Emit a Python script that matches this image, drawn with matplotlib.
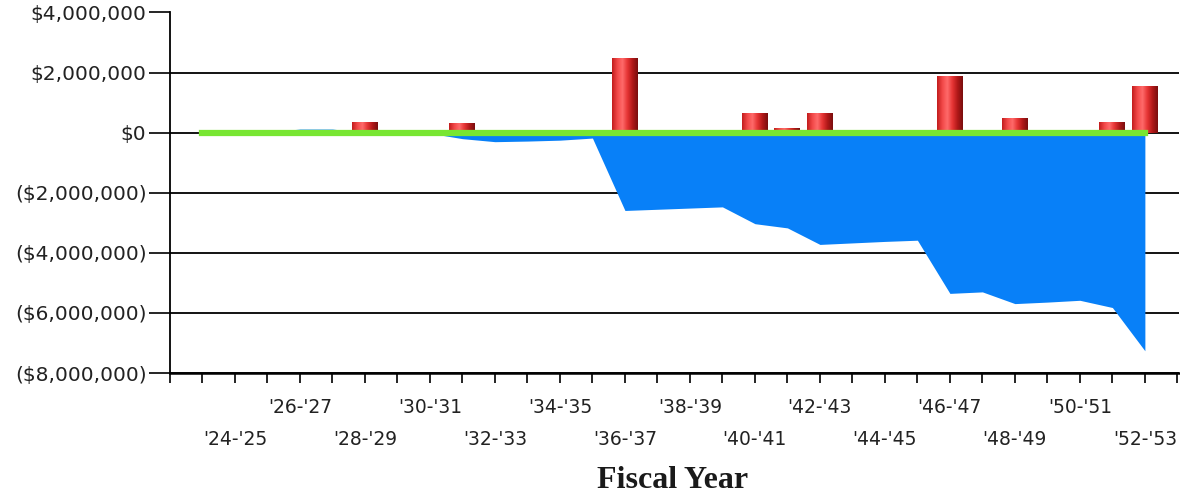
import numpy as np
import matplotlib.pyplot as plt
from matplotlib.colors import LinearSegmentedColormap

fiscal_years = ["'23-'24", "'24-'25", "'25-'26", "'26-'27", "'27-'28", "'28-'29",
                "'29-'30", "'30-'31", "'31-'32", "'32-'33", "'33-'34", "'34-'35",
                "'35-'36", "'36-'37", "'37-'38", "'38-'39", "'39-'40", "'40-'41",
                "'41-'42", "'42-'43", "'43-'44", "'44-'45", "'45-'46", "'46-'47",
                "'47-'48", "'48-'49", "'49-'50", "'50-'51", "'51-'52", "'52-'53"]

# annual amounts (red bars), in dollars
annual = [0, 50000, 0, 0, 0, 350000, 0, 0, 330000, 100000, 0, 0, 0, 2480000, 0,
          0, 0, 670000, 150000, 670000, 0, 0, 0, 1870000, 0, 480000, 0, 0,
          340000, 1540000]

# cumulative position (blue area), in dollars
cumulative = [0, 0, 20000, 120000, 120000, 0, 0, -20000, -200000, -300000,
              -280000, -250000, -180000, -2590000, -2550000, -2510000, -2470000,
              -3030000, -3170000, -3720000, -3670000, -3620000, -3580000,
              -5350000, -5300000, -5690000, -5640000, -5580000, -5820000,
              -7260000]

# break-even line (green)
breakeven = [0] * 30

y_ticks = [4000000, 2000000, 0, -2000000, -4000000, -6000000, -8000000]


def money(v):
    if v < 0:
        return '(${:,.0f})'.format(-v)
    return '${:,.0f}'.format(v)


x = np.arange(len(fiscal_years))

fig = plt.figure(figsize=(11.8, 4.96), dpi=100)
ax = fig.add_axes([170 / 1180, 1 - 373 / 496, 1009 / 1180, 360.5 / 496])

ax.fill_between(x, cumulative, 0, color='#0880f8', linewidth=0, zorder=1)

bars = ax.bar(x, annual, width=0.8, color='#d82828', zorder=2)
# cylinder shading on each bar
shade = LinearSegmentedColormap.from_list(
    'cyl', ['#c21d1d', '#f24848', '#ff6a6a', '#e53434', '#b01818', '#7a0e0e'])
grad = np.linspace(0, 1, 64).reshape(1, -1)
for b in bars:
    h = b.get_height()
    if h <= 0:
        continue
    x0 = b.get_x()
    im = ax.imshow(grad, cmap=shade, aspect='auto', zorder=2.1,
                   extent=[x0, x0 + b.get_width(), 0, h])
    im.set_clip_path(b)

ax.plot(x, breakeven, color='#78e632', linewidth=4.5, solid_capstyle='projecting',
        zorder=3)

ax.set_xlim(-0.97, 30.05)
ax.set_ylim(-8000000, 4000000)

ax.set_yticks(y_ticks)
ax.set_yticklabels([money(v) for v in y_ticks], fontsize=14.5, color='#222222')
ax.yaxis.grid(True, color='black', linewidth=1.3)
ax.set_axisbelow(True)

label_idx = list(range(1, len(fiscal_years), 2))
ax.set_xticks(label_idx)
ax.set_xticklabels([fiscal_years[i] for i in label_idx], fontsize=13.5, color='#222222')
ax.set_xticks(np.arange(-1, 31), minor=True)
ax.tick_params(axis='x', which='both', length=7, width=1.2, color='black', pad=11)
ax.tick_params(axis='y', length=15, width=1.2, color='black', pad=2)
# stagger the labels over two rows
for k, lab in enumerate(ax.get_xticklabels()):
    if k % 2 == 0:
        lab.set_y(-0.089)

for side in ['top', 'right']:
    ax.spines[side].set_visible(False)
ax.spines['left'].set_linewidth(1.3)
ax.spines['bottom'].set_linewidth(1.8)

fig.text(673 / 1180, 1 - 480 / 496, 'Fiscal Year', ha='center', va='center',
         fontsize=23, fontweight='bold', family='Liberation Serif', color='#1a1a1a')

plt.savefig('out.png', dpi=100)
